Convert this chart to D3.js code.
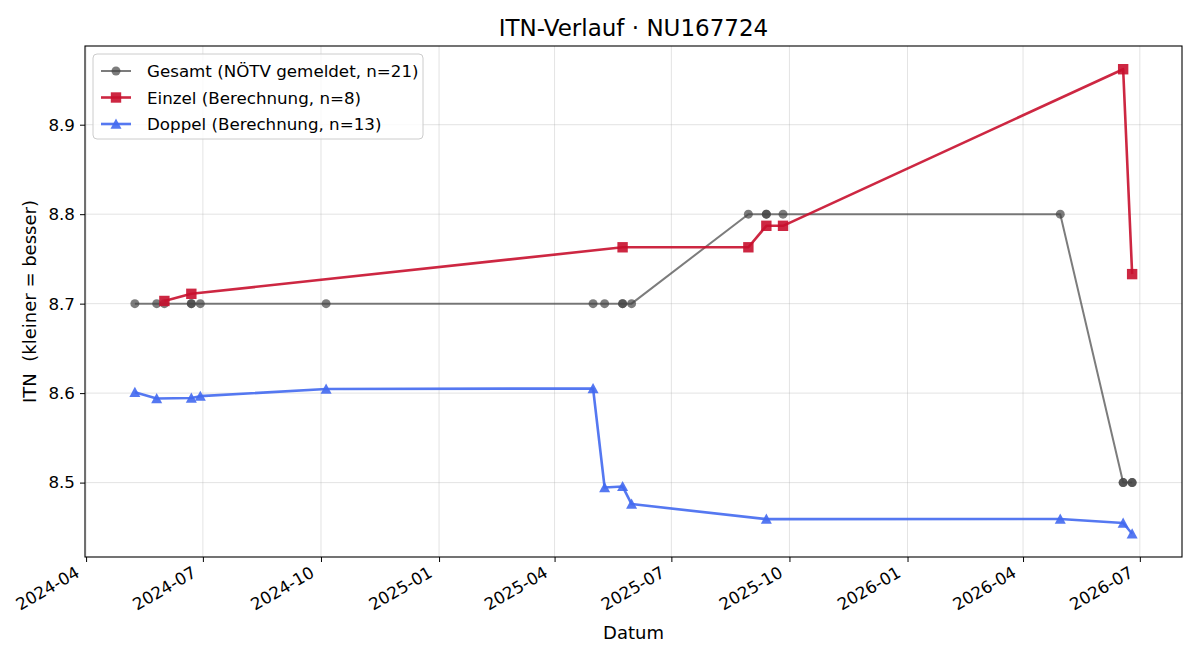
<!DOCTYPE html>
<html><head><meta charset="utf-8">
<script src="https://cdn.jsdelivr.net/npm/d3@7/dist/d3.min.js"></script>
<style>
body{margin:0;background:#fff;}
text{font-family:"DejaVu Sans",sans-serif;}
</style></head>
<body>
<svg id="chart" width="1200" height="660"></svg>
<script>
// ---- data ----
const title = "ITN-Verlauf · NU167724";
const xLabel = "Datum";
const yLabel = "ITN  (kleiner = besser)";
const yTicks = [8.5, 8.6, 8.7, 8.8, 8.9];

const gesamtDates = ["2024-05-09","2024-05-26","2024-06-01","2024-06-22","2024-06-22","2024-06-29","2024-10-05",
  "2025-05-01","2025-05-10","2025-05-24","2025-05-24","2025-05-31","2025-08-30","2025-09-13","2025-09-13",
  "2025-09-26","2026-04-30","2026-06-18","2026-06-18","2026-06-25","2026-06-25"];
const gesamtValues = [8.7,8.7,8.7,8.7,8.7,8.7,8.7,8.7,8.7,8.7,8.7,8.7,8.8,8.8,8.8,8.8,8.8,8.5,8.5,8.5,8.5];

const einzelDates = ["2024-06-01","2024-06-22","2025-05-24","2025-08-30","2025-09-13","2025-09-26","2026-06-18","2026-06-25"];
const einzelValues = [8.703,8.711,8.763,8.763,8.787,8.787,8.962,8.733];

const doppelDates = ["2024-05-09","2024-05-26","2024-06-22","2024-06-29","2024-10-05","2025-05-01","2025-05-10",
  "2025-05-24","2025-05-31","2025-09-13","2026-04-30","2026-06-18","2026-06-25"];
const doppelValues = [8.601,8.594,8.5945,8.5966,8.6046,8.6052,8.4945,8.4957,8.476,8.4592,8.4593,8.4548,8.4428];

const seriesNames = ["Gesamt (NÖTV gemeldet, n=21)","Einzel (Berechnung, n=8)","Doppel (Berechnung, n=13)"];

// ---- setup ----
const parse = d3.utcParse("%Y-%m-%d");
const series = [
  {name: seriesNames[0], dates: gesamtDates, values: gesamtValues, color: "#444444", opacity: 0.7, width: 2, marker: "circle", size: 4.5},
  {name: seriesNames[1], dates: einzelDates, values: einzelValues, color: "#c8102e", opacity: 0.9, width: 2.6, marker: "square", size: 5.2},
  {name: seriesNames[2], dates: doppelDates, values: doppelValues, color: "#4369f0", opacity: 0.9, width: 2.6, marker: "triangle", size: 5.5}
].map(s => ({...s, pts: s.dates.map((d,i)=>({x: parse(d), y: s.values[i]}))}));

const svg = d3.select("#chart");
const L = 85, R = 1182, T = 46, B = 557;
const FS = 16.7;

const allX = series.flatMap(s => s.pts.map(p => +p.x));
const allY = series.flatMap(s => s.pts.map(p => p.y));
const [x0, x1] = d3.extent(allX); const mx = (x1 - x0) * 0.05;
const [y0, y1] = d3.extent(allY); const my = (y1 - y0) * 0.05;

const x = d3.scaleUtc().domain([new Date(x0 - mx), new Date(x1 + mx)]).range([L, R]);
const y = d3.scaleLinear().domain([y0 - my, y1 + my]).range([B, T]);

const xTickVals = d3.utcMonth.every(3).range(x.domain()[0], x.domain()[1]);

// grid
const grid = svg.append("g");
grid.selectAll(".gx").data(xTickVals).join("line")
  .attr("x1", d => x(d)).attr("x2", d => x(d)).attr("y1", T).attr("y2", B)
  .attr("stroke", "#b0b0b0").attr("stroke-opacity", 0.35).attr("stroke-width", 1);
grid.selectAll(".gy").data(yTicks).join("line")
  .attr("x1", L).attr("x2", R).attr("y1", d => y(d)).attr("y2", d => y(d))
  .attr("stroke", "#b0b0b0").attr("stroke-opacity", 0.35).attr("stroke-width", 1);

// clip
svg.append("clipPath").attr("id","clip").append("rect").attr("x",L).attr("y",T).attr("width",R-L).attr("height",B-T);

const line = d3.line().x(p => x(p.x)).y(p => y(p.y));
const plot = svg.append("g").attr("clip-path","url(#clip)");

function markerPath(type, s) {
  if (type === "circle") return d3.symbol(d3.symbolCircle, Math.PI*s*s)();
  if (type === "square") return `M${-s},${-s}H${s}V${s}H${-s}Z`;
  return `M0,${-s}L${s},${s*0.85}L${-s},${s*0.85}Z`;
}

series.forEach(s => {
  const g = plot.append("g");
  g.append("path").datum(s.pts).attr("d", line).attr("fill","none")
    .attr("stroke", s.color).attr("stroke-opacity", s.opacity).attr("stroke-width", s.width)
    .attr("stroke-linejoin","round");
  g.selectAll("path.m").data(s.pts).join("path").attr("class","m")
    .attr("d", markerPath(s.marker, s.size))
    .attr("transform", p => `translate(${x(p.x)},${y(p.y)})`)
    .attr("fill", s.color).attr("fill-opacity", s.opacity);
});

// axes
const xAxis = d3.axisBottom(x).tickValues(xTickVals).tickFormat(d3.utcFormat("%Y-%m")).tickSize(5).tickPadding(4);
const gx = svg.append("g").attr("transform", `translate(0,${B})`).call(xAxis);
gx.select(".domain").remove();
gx.selectAll(".tick line").attr("stroke","#000").attr("stroke-width",1);
gx.selectAll(".tick text").attr("font-size", FS).attr("fill","#000")
  .attr("text-anchor","end").attr("dy", 0).attr("x", 0).attr("y", 0)
  .attr("transform", "translate(-6,19) rotate(-30)");

const yAxis = d3.axisLeft(y).tickValues(yTicks).tickFormat(d3.format(".1f")).tickSize(5).tickPadding(5);
const gy = svg.append("g").attr("transform", `translate(${L},0)`).call(yAxis);
gy.select(".domain").remove();
gy.selectAll(".tick line").attr("stroke","#000").attr("stroke-width",1);
gy.selectAll(".tick text").attr("font-size", FS).attr("fill","#000");

// frame
svg.append("rect").attr("x",L).attr("y",T).attr("width",R-L).attr("height",B-T)
  .attr("fill","none").attr("stroke","#000").attr("stroke-width",1.1);

// labels
svg.append("text").attr("x", (L+R)/2).attr("y", 36).attr("text-anchor","middle")
  .attr("font-size", 23).attr("fill","#000").text(title);
svg.append("text").attr("x", (L+R)/2).attr("y", 639).attr("text-anchor","middle")
  .attr("font-size", 18).attr("fill","#000").text(xLabel);
svg.append("text").attr("transform", `translate(36,${(T+B)/2}) rotate(-90)`).attr("text-anchor","middle")
  .style("white-space","pre")
  .attr("font-size", 18).attr("fill","#000").text(yLabel);

// legend
const lg = svg.append("g").attr("transform","translate(93,54)");
lg.append("rect").attr("width", 330).attr("height", 85).attr("rx", 4)
  .attr("fill","#fff").attr("fill-opacity",0.8).attr("stroke","#cccccc").attr("stroke-width",1);
series.forEach((s,i) => {
  const yy = 17 + i*26.5;
  lg.append("line").attr("x1", 8).attr("x2", 38).attr("y1", yy).attr("y2", yy)
    .attr("stroke", s.color).attr("stroke-opacity", s.opacity).attr("stroke-width", s.width);
  lg.append("path").attr("d", markerPath(s.marker, s.size)).attr("transform", `translate(23,${yy})`)
    .attr("fill", s.color).attr("fill-opacity", s.opacity);
  lg.append("text").attr("x", 54).attr("y", yy + 6).attr("font-size", FS).attr("fill","#000").text(s.name);
});
</script>
</body></html>
